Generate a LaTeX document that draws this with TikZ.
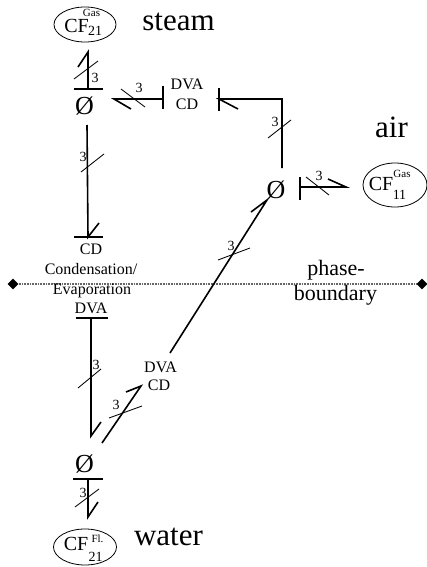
\documentclass[tikz,border=0pt]{standalone}
\usepackage{fontspec}
\setmainfont{Liberation Serif}
\usetikzlibrary{shapes.geometric}
\tikzset{
  x=1pt,y=-1pt,
  wire/.style={line width=1.6pt,black},
  barline/.style={line width=1.1pt,black},
  tick/.style={line width=0.85pt,black},
  num/.style={font=\fontsize{14}{14}\selectfont,inner sep=0pt},
  lab/.style={font=\fontsize{16}{16}\selectfont,inner sep=0pt,anchor=base},
  big/.style={font=\fontsize{31}{31}\selectfont,inner sep=0pt,anchor=base},
  mid/.style={font=\fontsize{22}{22}\selectfont,inner sep=0pt,anchor=base},
  cfs/.style={font=\fontsize{20}{20}\selectfont,inner sep=0pt,anchor=base},
  sub/.style={font=\fontsize{14}{14}\selectfont,inner sep=0pt,anchor=base},
  sup/.style={font=\fontsize{11}{11}\selectfont,inner sep=0pt,anchor=base},
  oval/.style={draw,ellipse,line width=0.8pt,inner sep=0pt,minimum width=#1},
  empty/.style={font=\fontsize{26}{26}\selectfont,inner sep=0pt,anchor=base},
  bound/.style={line width=2.4pt,black!60,dash pattern=on 1pt off 0.6pt},
  endmark/.style={diamond,fill=black,inner sep=0pt,minimum size=11pt}
}
\begin{document}
\begin{tikzpicture}
\useasboundingbox (0,0) rectangle (427,567);
% boundary
\node[endmark] (bl) at (13,284) {};
\node[endmark] (br) at (422,284) {};
\draw[bound] (bl) -- (br);
% ovals
\node[oval=62pt,minimum height=35pt] (cfsteam) at (85,24.5) {};
\node[oval=64pt,minimum height=44pt] (cfair) at (395,185) {};
\node[oval=63pt,minimum height=36pt] (cfwater) at (85,547) {};
\node[cfs] (t1) at (76.5,33) {CF};
\node[sub] (t1b) at (95,36) {21};
\node[sup] (t1c) at (91.5,17) {Gas};
\node[cfs] (t2) at (381,190) {CF};
\node[sub] (t2b) at (399.5,199) {11};
\node[sup] (t2c) at (402,177) {Gas};
\node[cfs] (t3) at (76,550) {CF};
\node[sub] (t3b) at (95.5,561) {21};
\node[sup] (t3c) at (97.5,542) {Fl.};
% big labels
\node[big] (steam) at (178.5,31) {steam};
\node[big] (air) at (391.5,137) {air};
\node[big] (water) at (168.5,545) {water};
\node[mid] (ph1) at (336,275) {phase-};
\node[mid] (ph2) at (335.5,300) {boundary};
% empty set nodes
\node[empty] (e1) at (84.5,115) {Ø};
\node[empty] (e2) at (276,198) {Ø};
\node[empty] (e3) at (84.5,472) {Ø};
% text nodes
\node[lab] (dva1) at (187,90) {DVA};
\node[lab] (cd1) at (187,110) {CD};
\node[lab] (cd2) at (91,254) {CD};
\node[lab] (cond) at (91,274) {Condensation/};
\node[lab] (evap) at (92,294) {Evaporation};
\node[lab] (dva2) at (91,313) {DVA};
\node[lab] (dva3) at (160.5,372) {DVA};
\node[lab] (cd3) at (159,390) {CD};
% named points
\coordinate (a1) at (88,89); \coordinate (a1t) at (88,52);
\coordinate (b1) at (163,99); \coordinate (b1t) at (114,99);
\coordinate (c1) at (219,99); \coordinate (c2) at (282,99); \coordinate (c3) at (282,168);
\coordinate (d1) at (300,187); \coordinate (d1t) at (346,187);
\coordinate (f1) at (87,125); \coordinate (f1t) at (88,237);
\coordinate (g1) at (170,353); \coordinate (g1t) at (267,200);
\coordinate (h1) at (91,318); \coordinate (h1t) at (91,436);
\coordinate (i1) at (102,443); \coordinate (i1t) at (141,386);
\coordinate (j1) at (88,479); \coordinate (j1t) at (88,517);
% wires
\draw[wire] (a1) -- (a1t) -- (78,67);
\draw[wire] (b1) -- (b1t) -- (131,109);
\draw[wire] (238,109) -- (c1) -- (c2) -- (c3);
\draw[wire] (d1) -- (d1t) -- (328,179);
\draw[wire] (f1) -- (f1t) -- (99,223);
\draw[wire] (g1) -- (g1t) -- (251,212);
\draw[wire] (h1) -- (h1t) -- (101,422);
\draw[wire] (i1) -- (i1t) -- (126,392);
\draw[wire] (j1) -- (j1t) -- (98,502);
% bars
\draw[barline] (74,89) -- (103,89);
\draw[barline] (163,86) -- (163,109);
\draw[barline] (219,88) -- (219,111);
\draw[barline] (300,177) -- (300,200);
\draw[barline] (74,237) -- (103,237);
\draw[barline] (76,318) -- (108,318);
\draw[barline] (73,479) -- (103,479);
% ticks and numbers
\draw[tick] (74,79) -- (98,61); \node[num] (n1) at (95,78) {3};
\draw[tick] (121,89) -- (145,107); \node[num] (n2) at (139,88) {3};
\draw[tick] (268,138) -- (291,120); \node[num] (n3) at (275,122) {3};
\draw[tick] (306,177) -- (329,195); \node[num] (n4) at (319,176) {3};
\draw[tick] (218,260) -- (250,248); \node[num] (n5) at (231,246) {3};
\draw[tick] (81,172) -- (104,154); \node[num] (n6) at (83,157) {3};
\draw[tick] (78,388) -- (101,369); \node[num] (n7) at (96,365) {3};
\draw[tick] (109,418) -- (142,406); \node[num] (n8) at (116,405) {3};
\draw[tick] (75,507) -- (99,489); \node[num] (n9) at (83,493) {3};
\end{tikzpicture}
\end{document}
